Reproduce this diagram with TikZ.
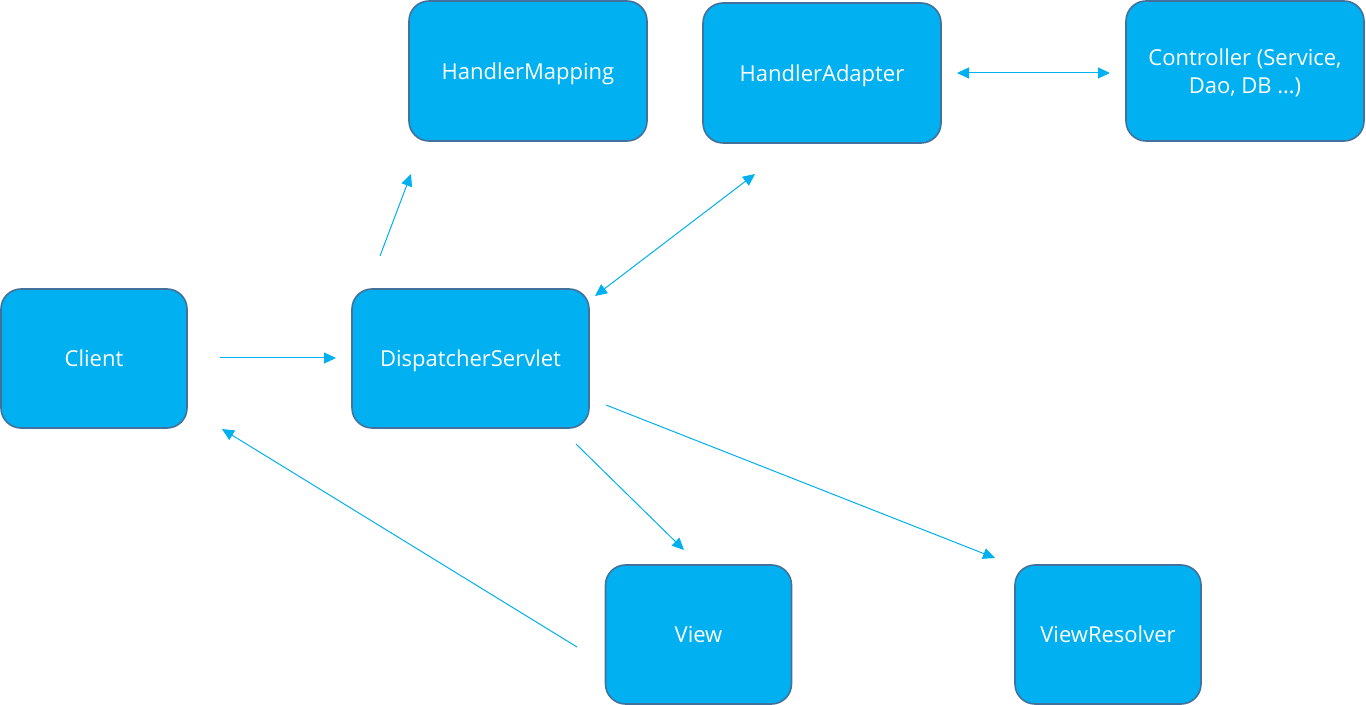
\documentclass[tikz,border=0pt]{standalone}
\usepackage{fontspec}
\setmainfont{Open Sans}
\usepackage{tikz}
\usetikzlibrary{arrows.meta}
\definecolor{boxfill}{HTML}{00B0F0}
\definecolor{boxline}{HTML}{41719C}

\begin{document}
\begin{tikzpicture}[x=0.5pt,y=-0.5pt,
    block/.style={draw=boxline,line width=0.8pt,fill=boxfill,rounded corners=10pt,
        text=white,align=center,font=\fontsize{11}{14}\selectfont,inner sep=0pt,text depth=0pt},
    flow/.style={draw=boxfill,line width=0.5pt,-{Triangle[length=6pt,width=5.5pt]}},
    both/.style={flow,{Triangle[length=6pt,width=5.5pt]}-{Triangle[length=6pt,width=5.5pt]}}]
    \useasboundingbox (0,0) rectangle (1366,705);

    \node[block,minimum width=119pt,minimum height=70pt] (mapping) at (528,71) {HandlerMapping};
    \node[block,minimum width=119pt,minimum height=70pt] (adapter) at (822,73) {HandlerAdapter};
    \node[block,minimum width=119pt,minimum height=70pt] (controller) at (1245,71) {Controller (Service,\\Dao, DB …)};
    \node[block,minimum width=93pt,minimum height=69.5pt] (client) at (94,358.5) {Client};
    \node[block,minimum width=118.5pt,minimum height=69.5pt] (servlet) at (470.5,358.5) {DispatcherServlet};
    \node[block,minimum width=93pt,minimum height=69.5pt] (view) at (698.5,634.5) {View};
    \node[block,minimum width=93pt,minimum height=69.5pt] (resolver) at (1108,634.5) {ViewResolver};

    % free arrow ends
    \coordinate (c1) at (220,358);   \coordinate (s1) at (336,358);
    \coordinate (s2) at (380,256);   \coordinate (m1) at (411,174);
    \coordinate (s3) at (595,296);   \coordinate (a1) at (755,174);
    \coordinate (a2) at (957,73);    \coordinate (k1) at (1110,73);
    \coordinate (s4) at (606,405);   \coordinate (r1) at (995,558);
    \coordinate (s5) at (576,444);   \coordinate (v1) at (684,550);
    \coordinate (v2) at (577,647);   \coordinate (c2) at (222,429);

    \draw[flow] (c1) -- (s1);
    \draw[flow] (s2) -- (m1);
    \draw[both] (s3) -- (a1);
    \draw[both] (a2) -- (k1);
    \draw[flow] (s4) -- (r1);
    \draw[flow] (s5) -- (v1);
    \draw[flow] (v2) -- (c2);
\end{tikzpicture}
\end{document}
